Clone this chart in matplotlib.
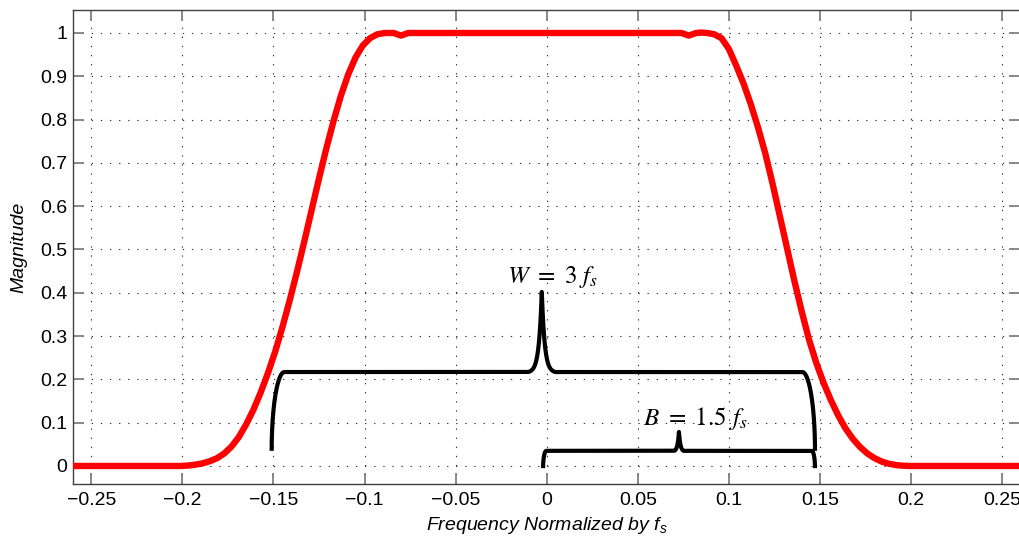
import numpy as np
import matplotlib
matplotlib.use("Agg")
import matplotlib.pyplot as plt

plt.rcParams['font.family'] = ['Liberation Sans', 'DejaVu Sans']
plt.rcParams['mathtext.fontset'] = 'custom'
plt.rcParams['mathtext.it'] = 'Liberation Sans:italic'
plt.rcParams['mathtext.rm'] = 'Liberation Sans'

# ---- data ----
freq = [-0.26, -0.22, -0.201, -0.197, -0.193, -0.189, -0.185, -0.181, -0.177,
        -0.173, -0.169, -0.165, -0.161, -0.157, -0.153, -0.149, -0.145,
        -0.141, -0.137, -0.133, -0.129, -0.125, -0.121, -0.117, -0.113,
        -0.109, -0.105, -0.101, -0.097, -0.093, -0.089, -0.084, -0.082,
        -0.080, -0.078, -0.076, -0.07, 0.0, 0.07, 0.074, 0.076, 0.078,
        0.080, 0.082, 0.085, 0.088, 0.092, 0.096, 0.100, 0.104, 0.108,
        0.112, 0.116, 0.120, 0.124, 0.128, 0.132, 0.136, 0.140, 0.144,
        0.148, 0.152, 0.156, 0.160, 0.164, 0.168, 0.172, 0.176, 0.180,
        0.184, 0.188, 0.192, 0.196, 0.200, 0.26]
magnitude = [0.0, 0.0, 0.0, 0.001, 0.003, 0.006, 0.011, 0.018, 0.029,
             0.045, 0.067, 0.096, 0.130, 0.170, 0.215, 0.265, 0.322,
             0.384, 0.450, 0.520, 0.592, 0.664, 0.733, 0.797, 0.855,
             0.904, 0.943, 0.971, 0.988, 0.997, 1.0, 1.0, 0.997,
             0.994, 0.997, 1.0, 1.0, 1.0, 1.0, 1.0, 0.997, 0.994,
             0.997, 1.0, 1.001, 1.0, 0.997, 0.988, 0.963, 0.925, 0.884,
             0.836, 0.782, 0.722, 0.652, 0.577, 0.502, 0.427, 0.357, 0.292,
             0.238, 0.192, 0.152, 0.117, 0.087, 0.063, 0.044, 0.029, 0.018,
             0.010, 0.005, 0.002, 0.0005, 0.0, 0.0]

xticks = [-0.25, -0.2, -0.15, -0.1, -0.05, 0, 0.05, 0.1, 0.15, 0.2, 0.25]
xticklabels = ['\u22120.25', '\u22120.2', '\u22120.15', '\u22120.1', '\u22120.05',
               '0', '0.05', '0.1', '0.15', '0.2', '0.25']
yticks = [0, 0.1, 0.2, 0.3, 0.4, 0.5, 0.6, 0.7, 0.8, 0.9, 1]
yticklabels = ['0', '0.1', '0.2', '0.3', '0.4', '0.5', '0.6', '0.7', '0.8', '0.9', '1']

# braces: start, end, tip position, base level, tip level, end level
brace_start = [-0.151, -0.002]
brace_end = [0.1473, 0.1473]
brace_tip_x = [-0.0027, 0.0726]
brace_base = [0.217, 0.035]
brace_tip_y = [0.402, 0.0785]
brace_end_y = [0.035, -0.005]
brace_labels = [r'$W\ =\ 3\ f_s$', r'$B\ =\ 1.5\ f_s$']
label_x = [0.0034, 0.0817]
label_y = [0.4226, 0.0947]


def brace_path(x0, x1, xt, yb, yt, ye, wc, wt, tau, n=80):
    th = np.linspace(0, np.pi / 2, n)
    # left end: vertical at bottom, horizontal at top
    lx = x0 + wc * (1 - np.cos(th))
    ly = ye + (yb - ye) * np.sin(th)
    # tip: sharp cusp with flared base
    d = np.linspace(wt, 0, n)
    f = (np.exp(-d / tau) - np.exp(-wt / tau)) / (1 - np.exp(-wt / tau))
    tlx = xt - d
    tly = yb + (yt - yb) * f
    trx = xt + d[::-1]
    try_ = yb + (yt - yb) * f[::-1]
    # right end
    rx = x1 - wc * (1 - np.cos(th[::-1]))
    ry = ye + (yb - ye) * np.sin(th[::-1])
    xs = np.concatenate([lx, tlx, trx, rx])
    ys = np.concatenate([ly, tly, try_, ry])
    return xs, ys


fig = plt.figure(figsize=(10.2, 5.41), dpi=100)
ax = fig.add_axes([73.1 / 1020, 57 / 541, 947.2 / 1020, 474 / 541])

ax.plot(freq, magnitude, color='#ff0000', lw=4.6, solid_capstyle='round',
        solid_joinstyle='round', zorder=3)

corner_w = [0.007, 0.0018]
tip_w = [0.0075, 0.0025]
tip_tau = [0.0016, 0.0008]
for i in range(len(brace_start)):
    bx, by = brace_path(brace_start[i], brace_end[i], brace_tip_x[i],
                        brace_base[i], brace_tip_y[i], brace_end_y[i],
                        corner_w[i], tip_w[i], tip_tau[i])
    ax.plot(bx, by, color='black', lw=3.0, solid_capstyle='butt',
            solid_joinstyle='round', zorder=4)
    ax.text(label_x[i], label_y[i], brace_labels[i], ha='center', va='baseline',
            fontsize=18, math_fontfamily='stix', zorder=5)

ax.set_xlim(-0.26, 0.26)
ax.set_ylim(-0.0416, 1.0531)
ax.set_xticks(xticks)
ax.set_xticklabels(xticklabels)
ax.set_yticks(yticks)
ax.set_yticklabels(yticklabels)

ax.grid(True, linestyle=(0, (1.2, 7)), color='#333333', lw=0.8)
ax.tick_params(direction='in', length=8, width=1.3, color='#808080',
               labelsize=14, top=True, right=True, labelcolor='black')
ax.tick_params(axis='x', pad=6)
ax.tick_params(axis='y', pad=4)
for s in ax.spines.values():
    s.set_color('#404040')
    s.set_linewidth(1.0)

ax.set_xlabel('Frequency Normalized by $f_s$', fontsize=14, style='italic',
              labelpad=4)
ax.set_ylabel('Magnitude', fontsize=14, style='italic', labelpad=9)

fig.savefig('out.png', dpi=100)
